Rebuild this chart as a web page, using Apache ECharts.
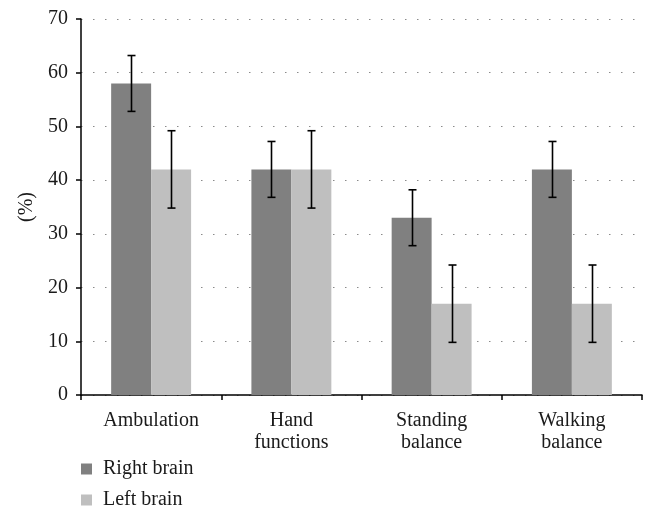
<!DOCTYPE html>
<html><head><meta charset="utf-8">
<script src="https://cdn.jsdelivr.net/npm/echarts@6/dist/echarts.min.js"></script>
<style>html,body{margin:0;padding:0;background:#fff}#c{width:647px;height:508px}</style>
</head><body><div id="c"></div>
<script>
const categories = ['Ambulation', 'Hand\nfunctions', 'Standing\nbalance', 'Walking\nbalance'];
const seriesNames = ['Right brain', 'Left brain'];
const rightBrain = [58, 42, 33, 42];
const leftBrain = [42, 42, 17, 17];
const rightErr = [5.2, 5.2, 5.2, 5.2];
const leftErr = [7.2, 7.2, 7.2, 7.2];
const yTicks = {min: 0, max: 70, interval: 10};

const FONT = 'Liberation Serif';
const chart = echarts.init(document.getElementById('c'));

function errSeries(name, vals, errs, side) {
  return {
    type: 'custom', name: name + ' err', z: 10, silent: true,
    data: vals.map((v, i) => [i, v - errs[i], v + errs[i]]),
    renderItem: function (params, api) {
      const band = api.size([1, 0])[0];
      const bw = band * 0.57 / 2;
      const lo = api.coord([api.value(0), api.value(1)]);
      const hi = api.coord([api.value(0), api.value(2)]);
      const x = Math.round(lo[0] + side * bw / 2) + 0.5;
      const cap = 4;
      const st = {stroke: '#000', lineWidth: 1.6};
      return {type: 'group', children: [
        {type: 'line', shape: {x1: x, y1: hi[1], x2: x, y2: lo[1]}, style: st},
        {type: 'line', shape: {x1: x - cap, y1: hi[1], x2: x + cap, y2: hi[1]}, style: st},
        {type: 'line', shape: {x1: x - cap, y1: lo[1], x2: x + cap, y2: lo[1]}, style: st}
      ]};
    }
  };
}

const legendBase = {
  icon: 'rect', itemWidth: 11, itemHeight: 11, left: 81, padding: 0,
  textStyle: {fontFamily: FONT, fontSize: 20, color: '#1a1a1a', lineHeight: 20, padding: [0, 0, 0, 6]}
};

chart.setOption({
  animation: false,
  textStyle: {fontFamily: FONT, color: '#1a1a1a'},
  grid: {left: 81, right: 5, top: 19, bottom: 113, containLabel: false},
  legend: [
    Object.assign({}, legendBase, {top: 459, data: [seriesNames[0]]}),
    Object.assign({}, legendBase, {top: 490, data: [seriesNames[1]]})
  ],
  xAxis: {
    type: 'category', data: categories,
    axisLine: {lineStyle: {color: '#000', width: 1.5}},
    axisTick: {show: true, length: 5, lineStyle: {color: '#000', width: 1.5}},
    axisLabel: {fontFamily: FONT, fontSize: 20, color: '#1a1a1a', lineHeight: 22, margin: 15}
  },
  yAxis: {
    type: 'value', min: yTicks.min, max: yTicks.max, interval: yTicks.interval,
    name: '(%)', nameLocation: 'middle', nameGap: 41,
    nameTextStyle: {fontFamily: FONT, fontSize: 20, color: '#1a1a1a'},
    axisLine: {show: true, lineStyle: {color: '#000', width: 1.5}},
    axisTick: {show: true, length: 5, lineStyle: {color: '#000', width: 1.5}},
    axisLabel: {fontFamily: FONT, fontSize: 20, color: '#1a1a1a', margin: 13},
    splitLine: {show: true, lineStyle: {color: '#8a8a8a', width: 1, type: [1.5, 10.5]}}
  },
  series: [
    {name: seriesNames[0], type: 'bar', data: rightBrain, barGap: '0%', barCategoryGap: '43%',
     itemStyle: {color: '#808080'}},
    {name: seriesNames[1], type: 'bar', data: leftBrain, barGap: '0%', barCategoryGap: '43%',
     itemStyle: {color: '#bfbfbf'}},
    errSeries(seriesNames[0], rightBrain, rightErr, -1),
    errSeries(seriesNames[1], leftBrain, leftErr, 1)
  ]
});
</script></body></html>
